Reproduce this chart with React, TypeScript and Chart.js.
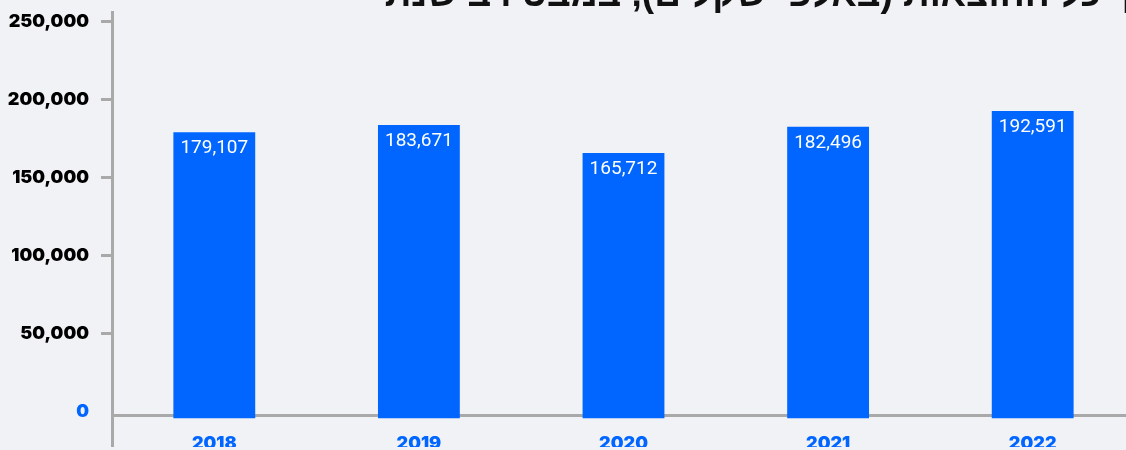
import React, { useEffect, useRef } from "react";
import { Chart, registerables } from "chart.js";

Chart.register(...registerables);

const years = ["2018", "2019", "2020", "2021", "2022"];
const expenses = [179107, 183671, 165712, 182496, 192591];
const yTicks = [0, 50000, 100000, 150000, 200000, 250000];
const titleText = "סך כל ההוצאות (באלפי שקלים), במבט רב שנתי";

const BLUE = "#0066ff";
const AXIS = "#a9a9a9";
const BG = "#f1f2f6";
const CANVAS_W = 1150;
const CANVAS_H = 447;

const fmt = (v: number) => Number(v).toLocaleString("en-US");

const titlePlugin = {
  id: "cutTitle",
  afterDraw(chart: any) {
    const ctx = chart.ctx;
    ctx.save();
    ctx.font = 'bold 37px "Liberation Sans", "DejaVu Sans", sans-serif';
    ctx.fillStyle = "#111111";
    ctx.textAlign = "right";
    (ctx as any).direction = "rtl";
    ctx.textBaseline = "alphabetic";
    ctx.fillText(titleText, CANVAS_W + 8, 6);
    ctx.restore();
  },
};

const valueLabels = {
  id: "valueLabels",
  afterDatasetsDraw(chart: any) {
    const ctx = chart.ctx;
    const meta = chart.getDatasetMeta(0);
    ctx.save();
    ctx.font = '19px Roboto, "Noto Sans", sans-serif';
    ctx.fillStyle = "#ffffff";
    ctx.textAlign = "center";
    ctx.textBaseline = "middle";
    meta.data.forEach((bar: any, i: number) => {
      ctx.fillText(fmt(expenses[i]), bar.x, bar.y + 16);
    });
    ctx.restore();
  },
};

export default function App() {
  const ref = useRef<HTMLCanvasElement | null>(null);

  useEffect(() => {
    if (!ref.current) return;
    const chart = new Chart(ref.current, {
      type: "bar",
      data: {
        labels: years,
        datasets: [
          {
            data: expenses,
            backgroundColor: BLUE,
            borderWidth: 0,
            base: -4000,
            barPercentage: 0.5,
            categoryPercentage: 0.8,
          } as any,
        ],
      },
      options: {
        animation: false,
        responsive: true,
        maintainAspectRatio: false,
        layout: { padding: { top: 12, right: 15, left: 0, bottom: 0 } },
        plugins: {
          legend: { display: false },
          tooltip: { enabled: false },
          title: { display: false },
        },
        scales: {
          x: {
            position: { y: -2400 } as any,
            grid: { display: false },
            border: { display: true, color: AXIS, width: 3 },
            ticks: {
              color: BLUE,
              font: { family: "Inter", size: 18, weight: "900" as any },
              padding: 9,
            },
            afterFit: (s: any) => {
              s.height = 0;
            },
          },
          y: {
            min: -22400,
            max: 256000,
            afterBuildTicks: (s: any) => {
              s.ticks = yTicks.map((v) => ({ value: v }));
            },
            afterFit: (s: any) => {
              s.width = 112;
              s.paddingTop = 0;
              s.paddingBottom = 0;
            },
            grid: {
              drawOnChartArea: false,
              drawTicks: true,
              tickLength: 11,
              lineWidth: 3,
              color: (c: any) =>
                c.tick && c.tick.value === 0 ? "rgba(0,0,0,0)" : AXIS,
            },
            border: { display: true, color: AXIS, width: 3 },
            ticks: {
              padding: 12,
              color: (c: any) => (c.tick && c.tick.value === 0 ? BLUE : "#000000"),
              font: { family: "Inter", size: 18, weight: "900" as any },
              callback: (v: any) => fmt(Number(v)),
            },
          },
        },
      },
      plugins: [titlePlugin, valueLabels],
    });
    return () => chart.destroy();
  }, []);

  return (
    <div
      style={{
        position: "fixed",
        left: 0,
        top: 0,
        width: "100vw",
        height: "100vh",
        overflow: "hidden",
        background: BG,
      }}
    >
      <div
        style={{
          position: "absolute",
          left: 0,
          top: 0,
          width: CANVAS_W,
          height: CANVAS_H,
        }}
      >
        <canvas ref={ref} />
      </div>
    </div>
  );
}
